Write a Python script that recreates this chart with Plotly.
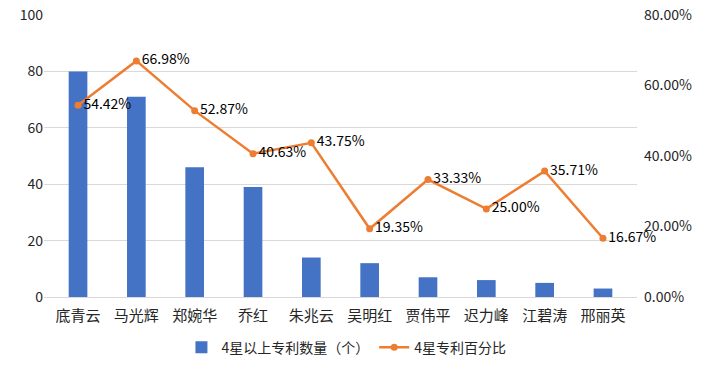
import plotly.graph_objects as go

names = ["底青云", "马光辉", "郑婉华", "乔红", "朱兆云", "吴明红", "贾伟平", "迟力峰", "江碧涛", "邢丽英"]
counts = [80, 71, 46, 39, 14, 12, 7, 6, 5, 3]
pcts = [54.42, 66.98, 52.87, 40.63, 43.75, 19.35, 33.33, 25.00, 35.71, 16.67]
bar_name = "4星以上专利数量（个）"
line_name = "4星专利百分比"

font_family = "Noto Sans CJK SC, Microsoft YaHei, sans-serif"

fig = go.Figure()
fig.add_trace(go.Bar(
    x=names, y=counts, name=bar_name,
    marker=dict(color="#4472C4", line=dict(width=0)),
    yaxis="y",
))
fig.add_trace(go.Scatter(
    x=names, y=[p / 100 for p in pcts], name=line_name,
    mode="lines+markers+text",
    line=dict(color="#ED7D31", width=2.5),
    marker=dict(color="#ED7D31", size=7),
    text=[f"{p:.2f}%" for p in pcts],
    textposition="middle right",
    textfont=dict(size=14, color="#000000", family=font_family),
    yaxis="y2", cliponaxis=False,
))

fig.update_layout(
    width=704, height=368,
    margin=dict(l=44, r=67, t=15, b=71, autoexpand=False),
    paper_bgcolor="white", plot_bgcolor="white",
    font=dict(family=font_family, size=13, color="#262626"),
    bargap=0.68,
    showlegend=True,
    legend=dict(orientation="h", x=0.51, xanchor="center", y=-0.18, yanchor="middle",
                font=dict(size=14, color="#262626"), traceorder="normal", itemwidth=30),
    xaxis=dict(showgrid=False, showline=True, linecolor="#d9d9d9", linewidth=1,
               tickfont=dict(size=15, color="#262626"), ticks="", automargin=False,
               ticklabelstandoff=5),
    yaxis=dict(range=[0, 100], dtick=20, showgrid=True, gridcolor="#d9d9d9",
               zeroline=False, showline=False, tickfont=dict(size=14, color="#262626"),
               ticks="", automargin=False),
    yaxis2=dict(range=[0, 0.8], dtick=0.2, tickformat=".2%", overlaying="y", side="right",
                showgrid=False, zeroline=False, showline=False, automargin=False,
                tickfont=dict(size=14, color="#262626"), ticklabelstandoff=6),
)

fig.write_html("out.html", config={"displayModeBar": False},
               post_script="document.body.style.margin='0';document.body.style.overflow='hidden';")
